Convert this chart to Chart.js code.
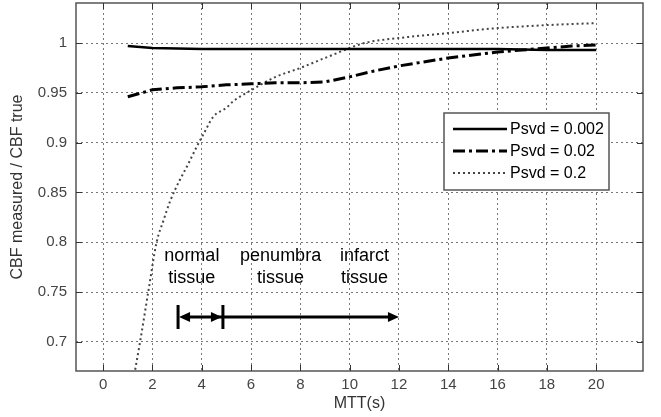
<!DOCTYPE html>
<html>
<head>
<meta charset="utf-8">
<script src="https://cdn.jsdelivr.net/npm/chart.js@4.4.1/dist/chart.umd.min.js"></script>
<style>
html, body { margin: 0; padding: 0; background: #fff; }
#wrap { width: 661px; height: 417px; }
</style>
</head>
<body>
<div id="wrap"><canvas id="myChart" width="661" height="417"></canvas></div>
<script>
// MTT (s) and measured/true CBF for each Psvd threshold
const mttLow = [1, 2, 4, 6, 8, 10, 12, 14, 16, 18, 20];
const cbfLow = [0.997, 0.995, 0.994, 0.994, 0.994, 0.994, 0.994, 0.994, 0.994, 0.993, 0.993];

const mttMid = [1, 2, 3, 4, 5, 6, 7, 8, 9, 10, 11, 12, 13, 14, 15, 16, 17, 18, 19, 20];
const cbfMid = [0.946, 0.953, 0.955, 0.956, 0.958, 0.959, 0.96, 0.96, 0.961, 0.966, 0.972, 0.977,
  0.981, 0.985, 0.988, 0.991, 0.993, 0.995, 0.997, 0.998];

const mttHigh = [1.3, 1.5, 1.83, 2.17, 2.45, 2.73, 3.1, 3.4, 3.8, 4.06, 4.47, 5.0, 5.3, 5.96,
  7, 8, 9.1, 10.6, 12, 14, 16, 18, 20];
const cbfHigh = [0.672, 0.7, 0.75, 0.8, 0.822, 0.842, 0.862, 0.876, 0.896, 0.908, 0.926, 0.935,
  0.942, 0.952, 0.966, 0.975, 0.986, 1.0, 1.005, 1.01, 1.015, 1.018, 1.02];

const seriesLabels = ["Psvd = 0.002", "Psvd = 0.02", "Psvd = 0.2"];

const xTicks = [0, 2, 4, 6, 8, 10, 12, 14, 16, 18, 20];
const yTicks = [0.7, 0.75, 0.8, 0.85, 0.9, 0.95, 1];

// tissue zones written under the curves
const zoneText = [["normal", "tissue"], ["penumbra", "tissue"], ["infarct", "tissue"]];
const zoneTextX = [3.6, 7.2, 10.6];
const zoneTextY = [0.786, 0.764];
const arrowX = [3.04, 4.86, 12];
const arrowY = 0.725;

const toPoints = (xs, ys) => xs.map((x, i) => ({ x: x, y: ys[i] }));

Chart.defaults.font.family = "'Liberation Sans', Arial, sans-serif";

function head(ctx, x, y, dir) {
  ctx.beginPath();
  ctx.moveTo(x, y);
  ctx.lineTo(x - dir * 11, y - 5);
  ctx.lineTo(x - dir * 11, y + 5);
  ctx.closePath();
  ctx.fill();
}

const extras = {
  id: "extras",
  afterDraw(chart) {
    const ctx = chart.ctx;
    const a = chart.chartArea;
    const xs = chart.scales.x;
    const ys = chart.scales.y;
    ctx.save();

    // box and inward ticks, matlab style
    ctx.strokeStyle = "#555";
    ctx.lineWidth = 1.5;
    ctx.strokeRect(a.left, a.top, a.right - a.left, a.bottom - a.top);
    ctx.lineWidth = 1;
    ctx.strokeStyle = "#333";
    ctx.beginPath();
    xTicks.forEach((v) => {
      const px = Math.round(xs.getPixelForValue(v)) + 0.5;
      ctx.moveTo(px, a.bottom); ctx.lineTo(px, a.bottom - 6);
      ctx.moveTo(px, a.top); ctx.lineTo(px, a.top + 6);
    });
    yTicks.forEach((v) => {
      const py = Math.round(ys.getPixelForValue(v)) + 0.5;
      ctx.moveTo(a.left, py); ctx.lineTo(a.left + 6, py);
      ctx.moveTo(a.right, py); ctx.lineTo(a.right - 6, py);
    });
    ctx.stroke();

    // zone labels
    ctx.fillStyle = "#000";
    ctx.font = "18px 'Liberation Sans', Arial, sans-serif";
    ctx.textAlign = "center";
    ctx.textBaseline = "middle";
    zoneText.forEach((lines, i) => {
      lines.forEach((t, j) => {
        ctx.fillText(t, xs.getPixelForValue(zoneTextX[i]), ys.getPixelForValue(zoneTextY[j]));
      });
    });

    // arrows
    const ay = ys.getPixelForValue(arrowY);
    const x0 = xs.getPixelForValue(arrowX[0]);
    const x1 = xs.getPixelForValue(arrowX[1]);
    const x2 = xs.getPixelForValue(arrowX[2]);
    ctx.strokeStyle = "#000";
    ctx.lineWidth = 3;
    ctx.beginPath();
    ctx.moveTo(x0, ay - 12); ctx.lineTo(x0, ay + 12);
    ctx.moveTo(x1, ay - 12); ctx.lineTo(x1, ay + 12);
    ctx.moveTo(x0 + 6, ay); ctx.lineTo(x2 - 6, ay);
    ctx.stroke();
    head(ctx, x0 + 1, ay, -1);
    head(ctx, x1 - 1, ay, 1);
    head(ctx, x2, ay, 1);

    // legend box inside the axes
    const lx = a.right - 199, ly = a.top + 110, lw = 165, lh = 77;
    ctx.fillStyle = "#fff";
    ctx.fillRect(lx, ly, lw, lh);
    ctx.strokeStyle = "#555";
    ctx.lineWidth = 1.5;
    ctx.strokeRect(lx, ly, lw, lh);
    ctx.font = "16px 'Liberation Sans', Arial, sans-serif";
    ctx.textAlign = "left";
    chart.data.datasets.forEach((ds, i) => {
      const ry = ly + 16 + i * 22;
      ctx.strokeStyle = ds.borderColor;
      ctx.lineWidth = ds.borderWidth;
      ctx.setLineDash(ds.borderDash || []);
      ctx.beginPath();
      ctx.moveTo(lx + 9, ry); ctx.lineTo(lx + 63, ry);
      ctx.stroke();
      ctx.setLineDash([]);
      ctx.fillStyle = "#000";
      ctx.fillText(ds.label, lx + 66, ry + 1);
    });
    ctx.restore();
  }
};

new Chart(document.getElementById("myChart"), {
  type: "scatter",
  data: {
    datasets: [
      {
        label: seriesLabels[0],
        data: toPoints(mttLow, cbfLow),
        showLine: true,
        borderColor: "#000",
        borderWidth: 2.5,
        pointRadius: 0
      },
      {
        label: seriesLabels[1],
        data: toPoints(mttMid, cbfMid),
        showLine: true,
        borderColor: "#000",
        borderWidth: 3,
        borderDash: [12, 4, 3, 4],
        pointRadius: 0
      },
      {
        label: seriesLabels[2],
        data: toPoints(mttHigh, cbfHigh),
        showLine: true,
        borderColor: "#444",
        borderWidth: 2,
        borderDash: [2, 3],
        cubicInterpolationMode: "monotone",
        pointRadius: 0
      }
    ]
  },
  options: {
    responsive: false,
    animation: false,
    layout: { padding: { top: 3, right: 18, bottom: 0, left: 0 } },
    plugins: { legend: { display: false }, tooltip: { enabled: false } },
    scales: {
      x: {
        type: "linear",
        min: -1.1,
        max: 21.9,
        afterBuildTicks: (s) => { s.ticks = xTicks.map((v) => ({ value: v })); },
        afterFit: (s) => { s.height = 46; s.paddingLeft = 0; s.paddingRight = 0; },
        grid: { color: "#777", lineWidth: 1, drawTicks: false },
        border: { display: false, dash: [2, 3] },
        ticks: { color: "#444", font: { size: 15 }, padding: 5, maxRotation: 0 },
        title: { display: true, text: "MTT(s)", color: "#333", font: { size: 16 }, padding: { top: 0, bottom: 4 } }
      },
      y: {
        type: "linear",
        min: 0.6707,
        max: 1.0402,
        afterBuildTicks: (s) => { s.ticks = yTicks.map((v) => ({ value: v })); },
        afterFit: (s) => { s.width = 76; s.paddingTop = 0; s.paddingBottom = 0; },
        grid: { color: "#777", lineWidth: 1, drawTicks: false },
        border: { display: false, dash: [2, 3] },
        ticks: {
          color: "#444",
          font: { size: 15 },
          padding: 9,
          callback: (v) => String(Number(v.toFixed(2)))
        },
        title: { display: true, text: "CBF measured / CBF true", color: "#333", font: { size: 16 }, padding: { top: 8, bottom: 0 } }
      }
    }
  },
  plugins: [extras]
});
</script>
</body>
</html>
